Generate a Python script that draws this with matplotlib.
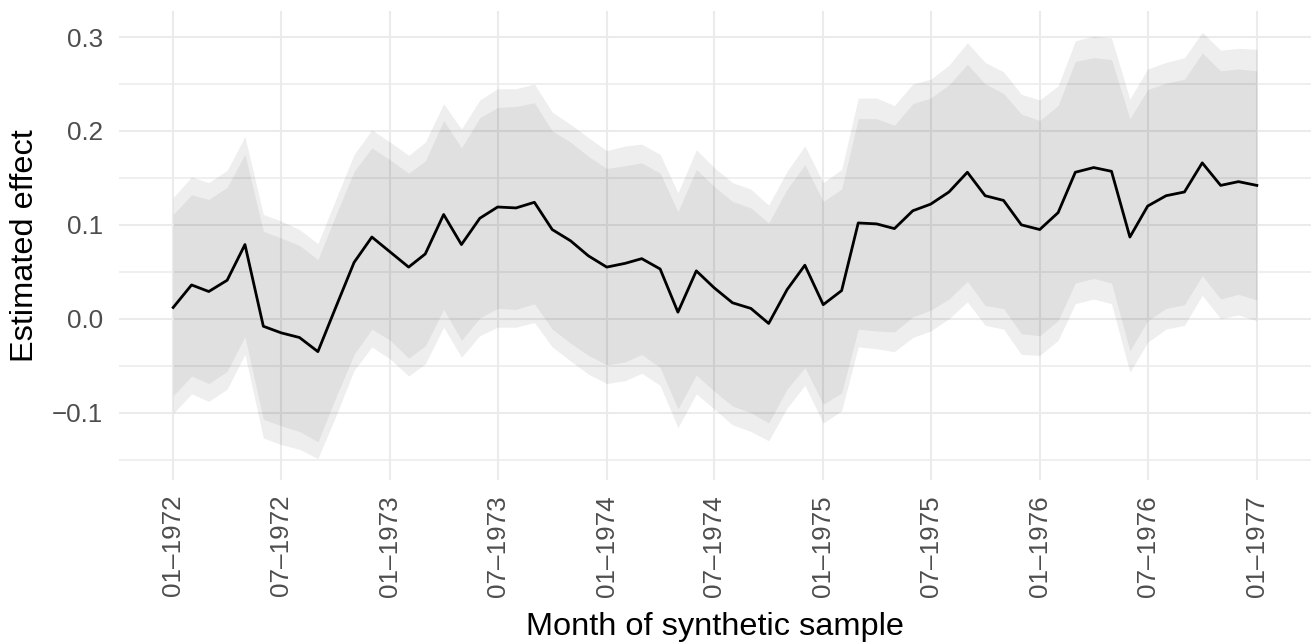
import pandas as pd
import matplotlib
matplotlib.use("Agg")
import matplotlib.pyplot as plt
import matplotlib.dates as mdates
from matplotlib.ticker import FixedLocator, MultipleLocator, FuncFormatter

plt.rcParams["font.family"] = ["Liberation Sans", "DejaVu Sans"]

# Months of the synthetic sample (01-1972 .. 01-1977)
months = pd.date_range("1972-01-01", "1977-01-01", freq="MS")

# Estimated effect
effect = [0.012, 0.036, 0.029, 0.041, 0.079, -0.008, -0.015, -0.020, -0.035, 0.012,
          0.060, 0.087, 0.071, 0.055, 0.069, 0.111, 0.079, 0.107, 0.119, 0.118,
          0.124, 0.095, 0.083, 0.067, 0.055, 0.059, 0.064, 0.053, 0.007, 0.051,
          0.033, 0.017, 0.011, -0.005, 0.031, 0.057, 0.015, 0.030, 0.102, 0.101,
          0.096, 0.115, 0.122, 0.135, 0.156, 0.131, 0.126, 0.100, 0.095, 0.113,
          0.156, 0.161, 0.157, 0.087, 0.120, 0.131, 0.135, 0.166, 0.142, 0.146,
          0.142]

# Outer band (wide interval)
upper_outer = [0.129, 0.151, 0.145, 0.158, 0.194, 0.111, 0.104, 0.095, 0.080, 0.127,
               0.175, 0.201, 0.188, 0.174, 0.188, 0.229, 0.202, 0.233, 0.245, 0.245,
               0.250, 0.220, 0.207, 0.193, 0.179, 0.184, 0.186, 0.175, 0.134, 0.180,
               0.161, 0.145, 0.138, 0.121, 0.157, 0.184, 0.145, 0.159, 0.235, 0.235,
               0.227, 0.250, 0.255, 0.270, 0.294, 0.273, 0.263, 0.239, 0.233, 0.248,
               0.296, 0.301, 0.299, 0.234, 0.266, 0.273, 0.278, 0.305, 0.286, 0.288,
               0.287]
lower_outer = [-0.101, -0.080, -0.088, -0.075, -0.038, -0.127, -0.134, -0.139, -0.149, -0.104,
               -0.055, -0.030, -0.043, -0.061, -0.048, -0.009, -0.041, -0.018, -0.009, -0.009,
               -0.004, -0.030, -0.045, -0.059, -0.069, -0.066, -0.058, -0.071, -0.116, -0.080,
               -0.096, -0.113, -0.120, -0.130, -0.095, -0.071, -0.111, -0.098, -0.030, -0.032,
               -0.035, -0.020, -0.013, 0.000, 0.018, -0.007, -0.011, -0.038, -0.039, -0.023,
               0.016, 0.021, 0.016, -0.057, -0.025, -0.011, -0.007, 0.025, 0.000, 0.004,
               -0.002]

# Inner band (narrow interval)
upper_inner = [0.111, 0.132, 0.127, 0.140, 0.175, 0.093, 0.086, 0.078, 0.063, 0.110,
               0.157, 0.182, 0.169, 0.155, 0.168, 0.211, 0.182, 0.214, 0.225, 0.226,
               0.230, 0.200, 0.188, 0.173, 0.160, 0.163, 0.166, 0.155, 0.114, 0.159,
               0.141, 0.125, 0.118, 0.102, 0.138, 0.164, 0.125, 0.138, 0.213, 0.213,
               0.206, 0.229, 0.235, 0.249, 0.271, 0.250, 0.240, 0.218, 0.211, 0.227,
               0.274, 0.278, 0.276, 0.213, 0.244, 0.251, 0.255, 0.283, 0.264, 0.266,
               0.264]
lower_inner = [-0.082, -0.061, -0.069, -0.056, -0.019, -0.107, -0.114, -0.120, -0.131, -0.084,
               -0.038, -0.011, -0.023, -0.042, -0.029, 0.010, -0.023, 0.001, 0.011, 0.010,
               0.016, -0.011, -0.026, -0.039, -0.049, -0.046, -0.038, -0.052, -0.096, -0.060,
               -0.077, -0.093, -0.100, -0.111, -0.075, -0.052, -0.091, -0.079, -0.011, -0.013,
               -0.014, 0.002, 0.009, 0.021, 0.040, 0.014, 0.011, -0.016, -0.018, -0.002,
               0.038, 0.043, 0.038, -0.034, -0.002, 0.011, 0.015, 0.046, 0.021, 0.026,
               0.020]

y_ticks = [-0.1, 0.0, 0.1, 0.2, 0.3]

W, H = 1312, 643
fig = plt.figure(figsize=(W / 100, H / 100), dpi=100)
ax = fig.add_axes([119 / W, 1 - 480 / H, (1311 - 119) / W, (480 - 11) / H])

grid_col = "#EBEBEB"
ax.set_axisbelow(True)

# ribbons + line
ax.fill_between(months, lower_outer, upper_outer, color="black", alpha=0.065, linewidth=0)
ax.fill_between(months, lower_inner, upper_inner, color="black", alpha=0.06, linewidth=0)
ax.plot(months, effect, color="black", linewidth=2.0)

# limits with ggplot-like 5% expansion
x0, x1 = mdates.date2num(months[0]), mdates.date2num(months[-1])
xpad = 0.05 * (x1 - x0)
ax.set_xlim(x0 - xpad, x1 + xpad)
ylo, yhi = min(lower_outer), max(upper_outer)
ypad = 0.05 * (yhi - ylo)
ax.set_ylim(ylo - ypad, yhi + ypad)

# axes / ticks
ax.xaxis.set_major_locator(mdates.MonthLocator(bymonth=[1, 7]))
ax.xaxis.set_major_formatter(mdates.DateFormatter("%m\u2013%Y"))
ax.yaxis.set_major_locator(FixedLocator(y_ticks))
ax.yaxis.set_minor_locator(MultipleLocator(0.05))
ax.yaxis.set_major_formatter(FuncFormatter(lambda v, p: f"{v:.1f}".replace("-", "\u2212")))

ax.grid(which="major", axis="both", color=grid_col, linewidth=1.5)
ax.grid(which="minor", axis="y", color=grid_col, linewidth=1.1)
ax.tick_params(axis="both", which="both", length=0)
ax.tick_params(axis="y", labelsize=18.7, labelcolor="#4D4D4D", pad=11.5)
ax.tick_params(axis="x", labelsize=18.7, labelcolor="#4D4D4D", pad=10.8, labelrotation=90)
for s in ax.spines.values():
    s.set_visible(False)

# axis titles
fig.text(715 / W, 1 - 635 / H, "Month of synthetic sample", fontsize=23.4,
         ha="center", va="baseline")
fig.text(33.5 / W, 1 - 245.5 / H, "Estimated effect", fontsize=23.4, rotation=90,
         rotation_mode="anchor", ha="center", va="baseline")

fig.savefig("out.png", dpi=100)
